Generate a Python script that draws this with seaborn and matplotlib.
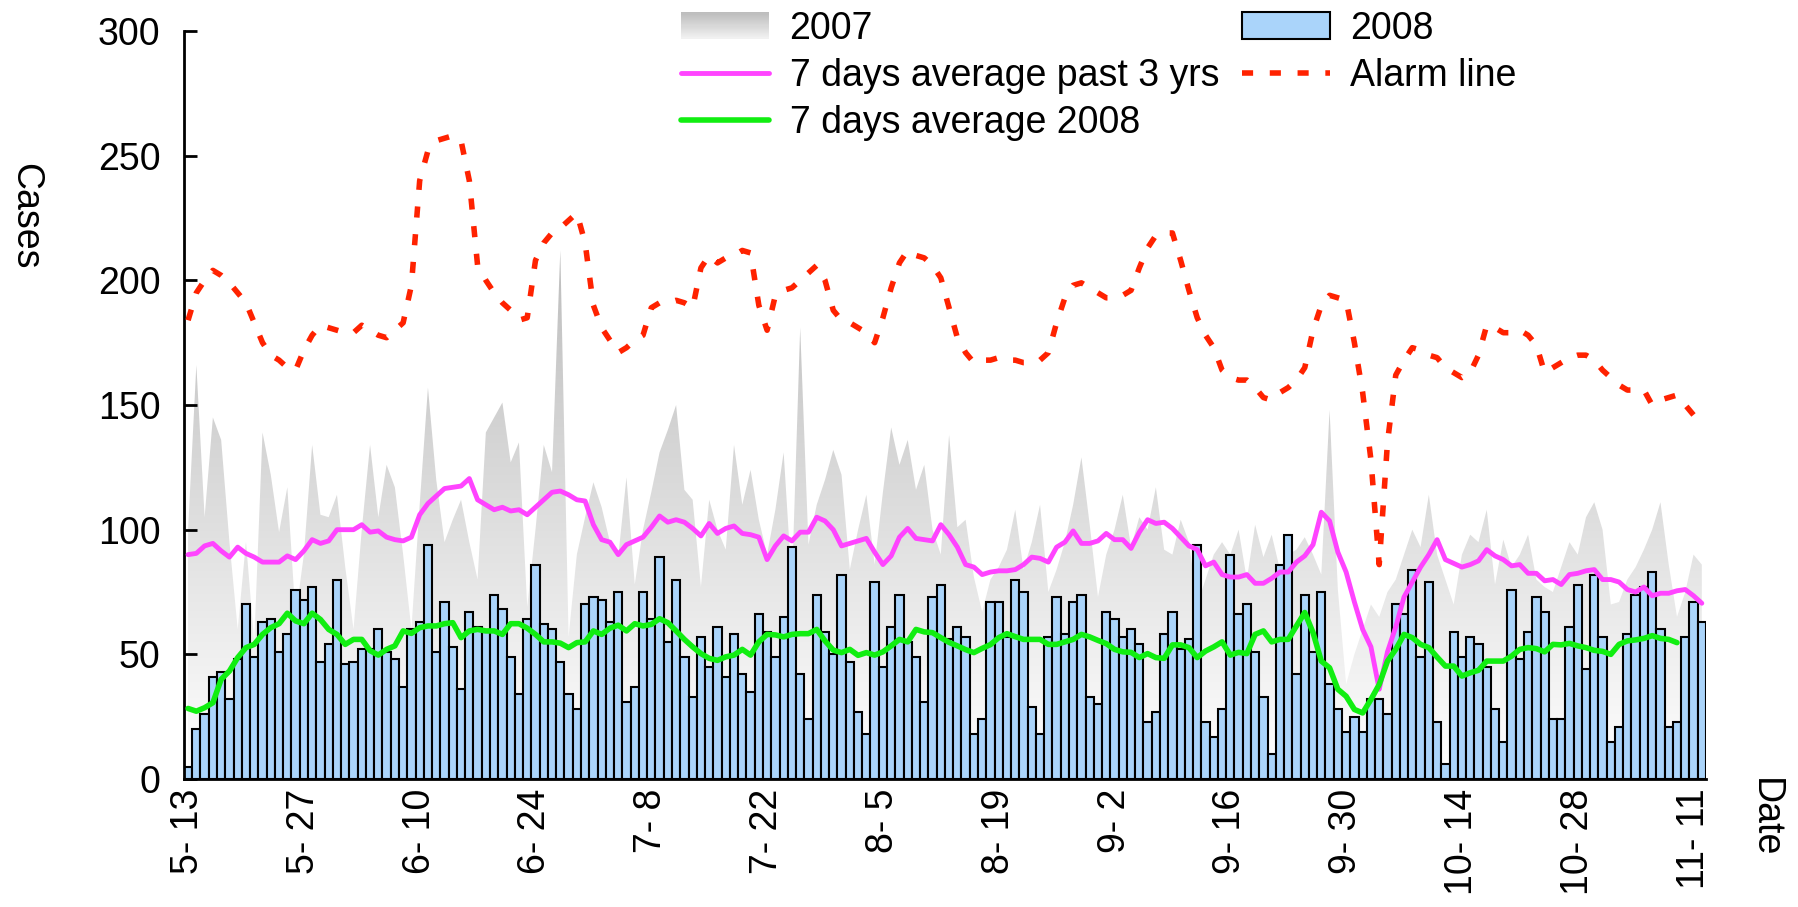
import numpy as np
import pandas as pd
import matplotlib
matplotlib.use("Agg")
import matplotlib.pyplot as plt
import seaborn as sns
from matplotlib.colors import LinearSegmentedColormap
from matplotlib.patches import Polygon, Rectangle, Patch
from matplotlib.lines import Line2D
from matplotlib.legend_handler import HandlerBase

# daily cases 2008, one bar per day from 5-13
cases_2008 = [
    5, 20, 26, 41, 43, 32, 48, 70, 49, 63, 64, 51, 58, 76, 72, 77, 47, 54, 80, 46, 47, 52, 52,
    60, 51, 48, 37, 60, 63, 94, 51, 71, 53, 36, 67, 61, 59, 74, 68, 49, 34, 64, 86, 62, 60, 47, 34,
    28, 70, 73, 72, 63, 75, 31, 37, 75, 64, 89, 55, 80, 49, 33, 57, 45, 61, 41, 58, 42, 35,
    66, 59, 49, 65, 93, 42, 24, 74, 59, 50, 82, 47, 27, 18, 79, 45, 61, 74, 55, 49, 31, 73, 78, 56,
    61, 57, 18, 24, 71, 71, 57, 80, 75, 29, 18, 57, 73, 58, 71, 74, 33, 30, 67, 64, 57, 60, 54,
    23, 27, 58, 67, 52, 56, 94, 23, 17, 28, 90, 66, 70, 51, 33, 10, 86, 98, 42, 74, 51, 75, 38,
    28, 19, 25, 19, 32, 32, 26, 70, 66, 84, 49, 79, 23, 6, 59, 49, 57, 54, 45, 28, 15, 76, 48, 59,
    73, 67, 24, 24, 61, 78, 44, 82, 57, 15, 21, 58, 74, 77, 83, 60, 21, 23, 57, 71, 63,
]

# same days in 2007 (grey area)
cases_2007 = [
    100, 166, 105, 145, 136, 95, 60, 95, 55, 139, 122, 99, 117, 65, 90, 134, 106, 105, 114, 85, 60, 100, 134,
    105, 126, 117, 90, 60, 110, 157, 120, 95, 104, 112, 95, 80, 139, 145, 151, 127, 135, 69, 100, 134, 123, 212, 57,
    90, 105, 119, 109, 95, 89, 121, 78, 100, 115, 131, 140, 150, 116, 112, 77, 112, 100, 92, 134, 110, 124,
    104, 90, 108, 131, 78, 181, 94, 110, 120, 132, 122, 84, 100, 114, 86, 115, 141, 126, 136, 116, 126, 100, 90, 138,
    101, 104, 81, 67, 80, 85, 92, 108, 84, 95, 110, 75, 84, 95, 110, 129, 102, 73, 90, 100, 114, 93, 105,
    100, 117, 92, 90, 104, 95, 70, 80, 90, 95, 90, 100, 80, 102, 89, 98, 84, 90, 92, 97, 90, 82, 148,
    76, 38, 50, 60, 70, 65, 75, 80, 90, 100, 93, 114, 90, 80, 70, 90, 98, 95, 108, 78, 96, 85, 90, 98,
    80, 77, 75, 85, 95, 90, 105, 111, 100, 70, 71, 80, 85, 92, 100, 111, 86, 65, 75, 90, 86,
]

avg_3yrs = [
    90, 90.5, 93.5, 94.5, 91.5, 89, 93, 90.5, 89, 87, 87, 87, 89.5, 88, 91.5, 96, 94.5, 95.5, 100, 100, 100, 102, 99,
    99.5, 97, 96, 95.5, 97, 106, 110.5, 113.5, 116.5, 117, 117.5, 120.5, 112, 110, 108, 109, 107.5, 108, 106, 109, 112, 115, 115.5, 114,
    112, 111.5, 102, 96, 95, 90, 94, 95.5, 97, 101, 105.5, 103, 104, 103, 100.5, 97.5, 102.5, 98.5, 100.5, 101.5, 98.5, 98,
    97, 88, 93.5, 97.5, 95.5, 99, 99, 105, 103.5, 100, 93.5, 94.5, 95.5, 96.5, 91, 86, 89.5, 97, 100.5, 96.5, 96, 95.5, 102, 98,
    93, 86, 85, 82, 83, 83.5, 83.5, 84, 86, 89, 88.5, 87, 93, 95, 99.5, 94.5, 94.5, 95.5, 98.5, 96, 96, 92.5, 99,
    104, 102.5, 103, 100.5, 97, 93.5, 92, 85.5, 87, 82, 81, 81, 82, 78.5, 78.5, 80.5, 83, 83, 87, 89.5, 94, 107, 103.5,
    91, 83, 71, 60, 53, 36, 51, 61, 73, 79, 85, 90, 96, 88, 86.5, 85, 86, 87.5, 92, 89.5, 88, 85.5, 86, 82.5,
    82.5, 79.5, 80, 78, 82, 82.5, 83.5, 84, 80, 80, 79, 76, 75, 77, 73.5, 74.5, 74.5, 75.5, 76, 73.5, 70.5,
]

avg_2008 = [
    28.3, 27.2, 28.6, 30.6, 40, 43.3, 48.7, 52.7, 54, 58, 60.7, 62.3, 66.5, 63.4, 62.3, 66.5, 64, 60, 58, 54, 56, 56, 51.5,
    49.7, 52, 53.4, 59.4, 58.4, 60.7, 61.4, 61.4, 62.3, 62.7, 56.7, 59.4, 60, 59.4, 59.4, 58, 62.3, 62.3, 60.5, 58, 55, 55, 54.5, 52.7,
    54.7, 55, 59.4, 58, 60.5, 61.7, 59.4, 62.3, 61.4, 62, 64.3, 62.7, 59.4, 56, 53, 50.3, 48.4, 47.6, 49, 49.7, 52, 49.7,
    55, 58, 57.8, 57, 58, 58.3, 58.3, 60, 55.4, 51.7, 50.7, 52, 49.6, 50.7, 49.7, 51, 53.4, 56, 55, 60, 59, 58.7, 56.7, 54.8,
    53.4, 51.9, 50.7, 52.4, 53.9, 56.7, 58.3, 57.1, 56, 56, 56, 54, 54, 55, 56, 58, 57, 55.6, 54.3, 52, 51, 50.8, 48.7,
    50.3, 48.7, 48.4, 53.8, 53.8, 52.7, 48.7, 51.3, 53, 55, 49.7, 50.8, 50.3, 58, 59.4, 55, 56, 56, 61.4, 66.8, 58.7, 47.3, 44.6,
    36, 33.2, 27.9, 26.5, 31.9, 37.9, 47.3, 52, 58, 56.7, 54, 52.7, 48.9, 45.3, 45.3, 41.3, 42.6, 43.6, 47.3, 47.3, 47.3, 49.3, 52, 52.7,
    52.3, 51, 54, 53.8, 54.4, 53.4, 52.7, 51.6, 51.2, 50, 54, 55.4, 55.8, 56.4, 57.5, 56.4, 56, 54.7,
]

alarm = [
    184, 195, 200, 204, 202, 199, 195, 191, 183, 175, 170, 168, 165, 164, 172, 178, 182, 181, 180, 179, 179, 182, 180,
    178, 177, 180, 183, 198, 240, 252, 256, 257, 258, 256, 240, 206, 200, 195, 191, 188, 184, 185, 208, 215, 219, 221, 224,
    227, 215, 190, 181, 176, 171, 173, 176, 178, 189, 191, 191, 192, 191, 189, 205, 210, 207, 209, 210, 212, 211,
    190, 180, 194, 196, 197, 200, 203, 206, 200, 188, 184, 183, 181, 179, 175, 185, 197, 207, 212, 210, 209, 206, 201, 189,
    177, 171, 167, 168, 168, 169, 168, 168, 167, 167, 168, 171, 183, 193, 198, 199, 197, 195, 193, 193, 194, 196, 205,
    213, 218, 219, 219, 208, 196, 185, 178, 173, 164, 161, 160, 160, 157, 153, 152, 155, 157, 160, 165, 180, 190, 194,
    193, 192, 175, 155, 128, 86, 135, 162, 168, 173, 172, 170, 169, 165, 163, 161, 163, 170, 182, 181, 179, 179, 180, 178,
    174, 163, 165, 167, 169, 170, 170, 168, 164, 161, 158, 156, 156, 156, 150, 152, 153, 154, 150, 146, 144,
]

legend_labels = ["2007", "7 days average past 3 yrs", "7 days average 2008", "2008", "Alarm line"]

n = len(cases_2008)
days = np.arange(n)
dates = pd.date_range("2008-05-13", periods=n)
tick_pos = days[::14]
tick_labels = [f"{d.month}- {d.day}" for d in dates[::14]]

sns.set_theme(style="white")
plt.rcParams["font.family"] = ["Liberation Sans", "DejaVu Sans"]
plt.rcParams["text.color"] = "black"

FS = 27
BLUE = "#aad4fa"
MAGENTA = "#ff44ff"
GREEN = "#11ee11"
RED = "#ff2200"
gray_cmap = LinearSegmentedColormap.from_list("gray07", ["#ffffff", "#bcbcbc"])


class GradientHandler(HandlerBase):
    # legend box with the same grey fade as the area
    def create_artists(self, legend, orig_handle, xdescent, ydescent,
                       width, height, fontsize, trans):
        steps = 24
        out = []
        for k in range(steps):
            r = Rectangle((-xdescent, -ydescent + height * k / steps), width,
                          height / steps * 1.05,
                          facecolor=gray_cmap(0.2 + 0.8 * (k + 0.5) / steps),
                          edgecolor="none", transform=trans)
            out.append(r)
        return out


fig = plt.figure(figsize=(17.98, 9.07), dpi=100)
ax = fig.add_axes([0.1023, 0.1411, 0.8465, 0.8247])

# 2007 as a grey area fading to white
verts = [(days[0], 0)] + list(zip(days, cases_2007)) + [(days[-1], 0)]
area = Polygon(verts, closed=True, facecolor="none", edgecolor="none")
ax.add_patch(area)
grad = np.linspace(0, 1, 256).reshape(-1, 1)
img = ax.imshow(grad, cmap=gray_cmap, origin="lower", aspect="auto",
                extent=[days[0], days[-1], 0, 215], zorder=0.5)
img.set_clip_path(area)

df = pd.DataFrame({"day": days, "cases": cases_2008})
sns.barplot(data=df, x="day", y="cases", native_scale=True, width=1.0,
            color=BLUE, saturation=1, edgecolor="black", linewidth=1.5,
            errorbar=None, ax=ax, zorder=1)

sns.lineplot(x=days, y=avg_3yrs, color=MAGENTA, lw=3.5, ax=ax, zorder=3)
sns.lineplot(x=days[:len(avg_2008)], y=avg_2008, color=GREEN, lw=4, ax=ax, zorder=3)
sns.lineplot(x=days, y=alarm, color=RED, lw=4, linestyle=(0, (2, 3)), ax=ax, zorder=3)

ax.set_xlim(-0.5, n - 0.5)
ax.set_ylim(0, 300)
ax.set_yticks(np.arange(0, 301, 50))
ax.set_xticks(tick_pos)
ax.set_xticklabels(tick_labels, rotation=90)
ax.tick_params(axis="y", direction="in", length=9, width=2, pad=17,
               labelsize=FS, left=True, color="black", labelcolor="black")
ax.tick_params(axis="x", length=0, pad=7, labelsize=FS, labelcolor="black")
sns.despine(ax=ax)
for s in ["left", "bottom"]:
    ax.spines[s].set_linewidth(2)
    ax.spines[s].set_color("black")

ax.set_ylabel("Cases", rotation=270, fontsize=FS, color="black", va="center", ha="center")
ax.yaxis.set_label_coords(-0.1045, 0.753)
ax.set_xlabel("Date", rotation=270, fontsize=FS, color="black", va="center", ha="center")
ax.xaxis.set_label_coords(1.039, -0.052)

h07 = Patch(facecolor="#d0d0d0")
handles = [
    h07,
    Line2D([], [], color=MAGENTA, lw=3.5),
    Line2D([], [], color=GREEN, lw=4),
    Patch(facecolor=BLUE, edgecolor="black", linewidth=1.5),
    Line2D([], [], color=RED, lw=4, linestyle=(0, (2, 3))),
]
leg = fig.legend(handles, legend_labels, ncol=2, loc="upper left",
                 bbox_to_anchor=(662 / 1798, 1.009), frameon=False, fontsize=FS,
                 handlelength=2.35, handletextpad=0.55, columnspacing=0.6,
                 labelspacing=0.3, borderpad=0, handler_map={h07: GradientHandler()})
for t in leg.get_texts():
    t.set_color("black")

fig.savefig("out.png", dpi=100)
